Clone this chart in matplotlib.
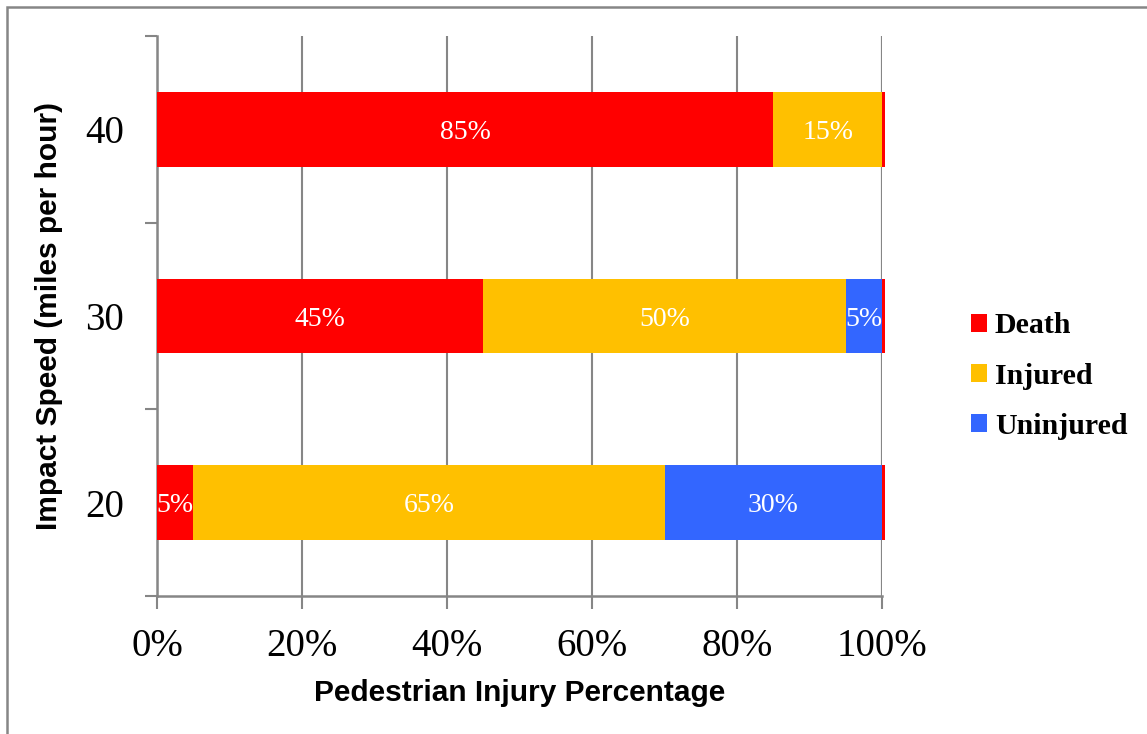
import numpy as np
import matplotlib.pyplot as plt
from matplotlib.patches import Rectangle

speeds = ['20', '30', '40']
death = [5, 45, 85]
injured = [65, 50, 15]
uninjured = [30, 5, 0]
series_names = ['Death', 'Injured', 'Uninjured']
colors = ['#ff0000', '#ffc000', '#3366ff']
xticks = [0, 20, 40, 60, 80, 100]

serif = 'Liberation Serif'
sans = 'Liberation Sans'
grey = '#868686'

fig = plt.figure(figsize=(11.47, 7.34), dpi=100)
ax = fig.add_axes([157 / 1147, 1 - 596 / 734, 725 / 1147, 560 / 734])

y = np.arange(len(speeds))
left = np.zeros(len(speeds))
handles = []
for vals, name, c in zip([death, injured, uninjured], series_names, colors):
    vals = np.array(vals, dtype=float)
    b = ax.barh(y, vals, left=left, height=0.4, color=c, label=name, zorder=3)
    handles.append(b)
    for yi, l, v in zip(y, left, vals):
        if v > 0:
            ax.text(l + v / 2, yi, f'{int(v)}%', ha='center', va='center_baseline',
                    color='white', fontsize=20, family=serif, zorder=4)
    left += vals

# thin red cap at the end of each stacked bar
ax.barh(y, 0.35, left=left, height=0.4, color='#ff0000', zorder=3, clip_on=False)

ax.set_xlim(0, 100)
ax.set_ylim(-0.5, 2.5)
ax.set_xticks(xticks)
ax.set_xticklabels([f'{t}%' for t in xticks], family=serif, fontsize=28)
ax.set_yticks([-0.5, 0.5, 1.5, 2.5])
ax.set_yticklabels([])
ax.set_yticks(y, minor=True)
ax.set_yticklabels(speeds, minor=True, family=serif, fontsize=28)
ax.tick_params(axis='y', which='minor', length=0, pad=24)
ax.tick_params(axis='y', which='major', length=9, width=1.5, color=grey)
ax.tick_params(axis='x', length=9, width=1.5, color=grey, pad=14)

ax.grid(axis='x', color=grey, lw=1.5, zorder=0)
ax.axvline(100, color=grey, lw=1.5, zorder=0)
for s in ['top', 'right']:
    ax.spines[s].set_visible(False)
for s in ['left', 'bottom']:
    ax.spines[s].set_color(grey)
    ax.spines[s].set_linewidth(1.8)

ax.set_xlabel('Pedestrian Injury Percentage', family=sans, fontweight='bold',
              fontsize=21.5, labelpad=10)
ax.set_ylabel('Impact Speed (miles per hour)', family=sans, fontweight='bold',
              fontsize=21.5, labelpad=16)

leg = fig.legend(handles=handles, loc='center left', bbox_to_anchor=(971 / 1147, 1 - 376 / 734),
                 frameon=False, handlelength=0.55, handleheight=0.55, handletextpad=0.25,
                 labelspacing=0.78, borderaxespad=0, borderpad=0,
                 prop={'family': serif, 'weight': 'bold', 'size': 21.5})

# outer chart border
fig.patches.append(Rectangle((7 / 1147, -0.1), 1.2, 1 - 7 / 734 + 0.1,
                             transform=fig.transFigure, fill=False,
                             edgecolor=grey, lw=1.8))

fig.savefig('out.png', dpi=100)
